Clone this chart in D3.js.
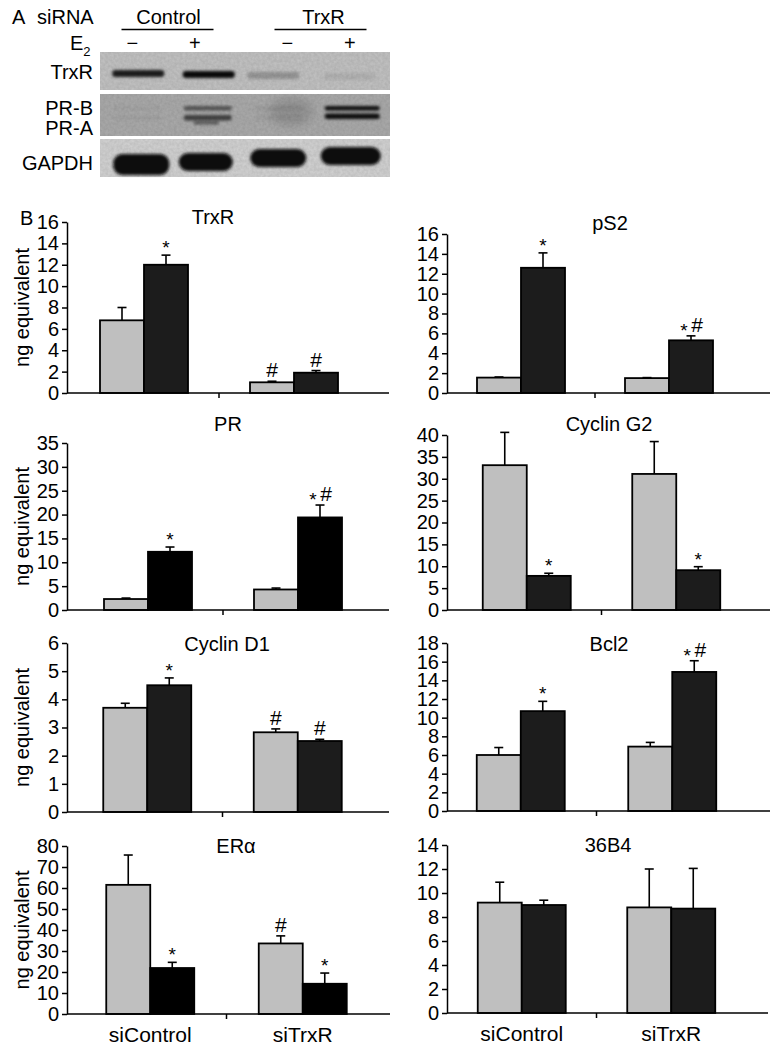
<!DOCTYPE html>
<html><head><meta charset="utf-8">
<script src="https://cdn.jsdelivr.net/npm/d3@7"></script>
<style>
body{margin:0;background:#fff}
svg{display:block}
text{font-family:"Liberation Sans",Arial,Helvetica,sans-serif;fill:#000}
</style>
</head><body>
<svg id="c" width="778" height="1050"></svg>
<script>
// ---------------- DATA ----------------
const groups = ["siControl", "siTrxR"];
const treatments = ["vehicle", "E2"];
const panelNames = ["TrxR", "pS2", "PR", "Cyclin G2", "Cyclin D1", "Bcl2", "ERα", "36B4"];
// order of values: siControl-vehicle, siControl-E2, siTrxR-vehicle, siTrxR-E2
const TrxR_mean = [6.8, 12.0, 1.0, 1.9];
const TrxR_err  = [1.2, 0.9, 0.1, 0.2];
const TrxR_marks = ["", "*", "#", "#"];
const TrxR_ticks = [0, 2, 4, 6, 8, 10, 12, 14, 16];

const pS2_mean = [1.55, 12.6, 1.5, 5.3];
const pS2_err  = [0.06, 1.5, 0.05, 0.45];
const pS2_marks = ["", "*", "", "*#"];
const pS2_ticks = [0, 2, 4, 6, 8, 10, 12, 14, 16];

const PR_mean = [2.3, 12.2, 4.3, 19.4];
const PR_err  = [0.2, 1.0, 0.3, 2.6];
const PR_marks = ["", "*", "", "*#"];
const PR_ticks = [0, 5, 10, 15, 20, 25, 30, 35];

const CycG2_mean = [33.1, 7.8, 31.1, 9.1];
const CycG2_err  = [7.5, 0.6, 7.4, 0.8];
const CycG2_marks = ["", "*", "", "*"];
const CycG2_ticks = [0, 5, 10, 15, 20, 25, 30, 35, 40];

const CycD1_mean = [3.7, 4.5, 2.83, 2.52];
const CycD1_err  = [0.16, 0.26, 0.12, 0.06];
const CycD1_marks = ["", "*", "#", "#"];
const CycD1_ticks = [0, 1, 2, 3, 4, 5, 6];

const Bcl2_mean = [6.0, 10.7, 6.9, 14.9];
const Bcl2_err  = [0.8, 1.05, 0.45, 1.2];
const Bcl2_marks = ["", "*", "", "*#"];
const Bcl2_ticks = [0, 2, 4, 6, 8, 10, 12, 14, 16, 18];

const ERa_mean = [61.5, 21.9, 33.6, 14.4];
const ERa_err  = [14.2, 2.7, 3.6, 5.1];
const ERa_marks = ["", "*", "#", "*"];
const ERa_ticks = [0, 10, 20, 30, 40, 50, 60, 70, 80];

const B36B4_mean = [9.2, 9.0, 8.8, 8.7];
const B36B4_err  = [1.7, 0.4, 3.2, 3.35];
const B36B4_marks = ["", "", "", ""];
const B36B4_ticks = [0, 2, 4, 6, 8, 10, 12, 14];

// western blot (panel A): relative band intensities per lane
const lanes = ["Control −", "Control +", "TrxR −", "TrxR +"];
const siRNAGroups = ["Control", "TrxR"];
const e2Signs = ["−", "+", "−", "+"];
const blotTrxR = [0.85, 0.95, 0.22, 0.07];
const blotPRB = [0.03, 0.5, 0.06, 0.92];
const blotPRA = [0.03, 0.62, 0.04, 0.92];
const blotGAPDH = [1, 1, 1, 1];

// ---------------- LAYOUT / STYLE ----------------
const panels = [
  {name: panelNames[0], mean: TrxR_mean, err: TrxR_err, marks: TrxR_marks, ticks: TrxR_ticks},
  {name: panelNames[1], mean: pS2_mean, err: pS2_err, marks: pS2_marks, ticks: pS2_ticks},
  {name: panelNames[2], mean: PR_mean, err: PR_err, marks: PR_marks, ticks: PR_ticks},
  {name: panelNames[3], mean: CycG2_mean, err: CycG2_err, marks: CycG2_marks, ticks: CycG2_ticks},
  {name: panelNames[4], mean: CycD1_mean, err: CycD1_err, marks: CycD1_marks, ticks: CycD1_ticks},
  {name: panelNames[5], mean: Bcl2_mean, err: Bcl2_err, marks: Bcl2_marks, ticks: Bcl2_ticks},
  {name: panelNames[6], mean: ERa_mean, err: ERa_err, marks: ERa_marks, ticks: ERa_ticks},
  {name: panelNames[7], mean: B36B4_mean, err: B36B4_err, marks: B36B4_marks, ticks: B36B4_ticks}
];
const layout = [
  {x0:67, b0:69, b1:369, x1:389, y0:393, yT:222, tx:213, ty:217, ylab:true},
  {x0:447, b0:447, b1:743, x1:770, y0:393, yT:234, tx:610, ty:223},
  {x0:67, b0:73, b1:373, x1:389, y0:610, yT:443, tx:228, ty:424, ylab:true, dark:"#000"},
  {x0:447, b0:452, b1:751, x1:770, y0:610, yT:435, tx:609, ty:424},
  {x0:67, b0:72, b1:373, x1:389, y0:812, yT:643, tx:227, ty:644, ylab:true},
  {x0:447, b0:445, b1:748, x1:770, y0:811, yT:643, tx:609, ty:644},
  {x0:67, b0:74, b1:379, x1:390, y0:1014, yT:846, tx:236, ty:846, ylab:true, xlab:true, dark:"#000"},
  {x0:447, b0:447, b1:746, x1:768, y0:1013, yT:845, tx:608, ty:845, xlab:true}
];
const GRAY = "#bfbfbf", DARK = "#1c1c1c";
const BARW = 44;

const svg = d3.select("#c");
svg.append("rect").attr("width", 778).attr("height", 1050).attr("fill", "#fff");

// ---------------- PANEL B ----------------
svg.append("text").attr("x", 20).attr("y", 225).attr("font-size", 20).text("B");

panels.forEach((p, i) => {
  const L = layout[i];
  const g = svg.append("g");
  const y = d3.scaleLinear().domain([0, d3.max(p.ticks)]).range([L.y0, L.yT]);
  const x = d3.scaleBand().domain(groups).range([L.b0, L.b1]);
  const xi = d3.scaleBand().domain(treatments).range([-BARW, BARW]);

  const rows = [];
  groups.forEach((gr, gi) => treatments.forEach((t, ti) => {
    const k = gi * 2 + ti;
    rows.push({g: gr, t: t, ti: ti, v: p.mean[k], e: p.err[k], m: p.marks[k]});
  }));

  // bars
  g.selectAll("rect.bar").data(rows).join("rect")
    .attr("x", d => x(d.g) + x.bandwidth() / 2 + xi(d.t))
    .attr("width", xi.bandwidth())
    .attr("y", d => y(d.v))
    .attr("height", d => y(0) - y(d.v))
    .attr("fill", d => d.ti === 0 ? GRAY : (L.dark || DARK))
    .attr("stroke", "#000").attr("stroke-width", 1.8);

  // error bars
  const cx = d => x(d.g) + x.bandwidth() / 2 + xi(d.t) + xi.bandwidth() / 2;
  g.selectAll("line.eb").data(rows).join("line")
    .attr("x1", cx).attr("x2", cx)
    .attr("y1", d => y(d.v)).attr("y2", d => y(d.v + d.e))
    .attr("stroke", "#000").attr("stroke-width", 1.6);
  g.selectAll("line.cap").data(rows).join("line")
    .attr("x1", d => cx(d) - 4.5).attr("x2", d => cx(d) + 4.5)
    .attr("y1", d => y(d.v + d.e)).attr("y2", d => y(d.v + d.e))
    .attr("stroke", "#000").attr("stroke-width", 1.6);

  // significance marks
  rows.forEach(d => {
    if (!d.m) return;
    const top = y(d.v + d.e);
    const both = d.m.length > 1;
    [...d.m].forEach(ch => {
      const dx = both ? (ch === "*" ? -7 : 6) : 0;
      g.append("text")
        .attr("x", cx(d) + dx)
        .attr("y", ch === "*" ? top + (both ? 1 : -1) : top - 4)
        .attr("text-anchor", "middle")
        .attr("font-size", ch === "*" ? 19 : 21)
        .text(ch);
    });
  });

  // y axis
  const ax = g.append("g").attr("transform", `translate(${L.x0},0)`)
    .call(d3.axisLeft(y).tickValues(p.ticks).tickFormat(d3.format("d"))
      .tickSize(5).tickSizeOuter(0).tickPadding(3));
  ax.attr("font-family", null).attr("font-size", null);
  ax.selectAll("text").attr("font-size", 20).attr("fill", "#000");
  ax.selectAll("path, line").attr("stroke", "#000").attr("stroke-width", 1.5);

  // x axis line and middle tick
  g.append("line").attr("x1", L.x0).attr("x2", L.x1).attr("y1", L.y0).attr("y2", L.y0)
    .attr("stroke", "#000").attr("stroke-width", 1.5);
  const mid = (x(groups[0]) + x(groups[1]) + x.bandwidth()) / 2;
  g.append("line").attr("x1", mid).attr("x2", mid).attr("y1", L.y0).attr("y2", L.y0 + 5)
    .attr("stroke", "#000").attr("stroke-width", 1.5);

  // title
  g.append("text").attr("x", L.tx).attr("y", L.ty).attr("dy", "0.35em")
    .attr("text-anchor", "middle").attr("font-size", 20).text(p.name);

  if (L.ylab) {
    g.append("text").attr("transform", `translate(22,${(L.y0 + L.yT) / 2}) rotate(-90)`)
      .attr("dy", "0.35em").attr("text-anchor", "middle").attr("font-size", 20).text("ng equivalent");
  }
  if (L.xlab) {
    g.selectAll("text.xl").data(groups).join("text")
      .attr("x", d => x(d) + x.bandwidth() / 2).attr("y", L.y0 + 28)
      .attr("text-anchor", "middle").attr("font-size", 21).text(d => d);
  }
});

// ---------------- PANEL A (western blot) ----------------
const defs = svg.append("defs");
defs.append("filter").attr("id", "blur2").attr("x", "-30%").attr("y", "-100%").attr("width", "160%").attr("height", "300%")
  .append("feGaussianBlur").attr("stdDeviation", 1.6);
defs.append("filter").attr("id", "blur4").attr("x", "-30%").attr("y", "-100%").attr("width", "160%").attr("height", "300%")
  .append("feGaussianBlur").attr("stdDeviation", 4);
const noise = defs.append("filter").attr("id", "noise").attr("x", 0).attr("y", 0).attr("width", "100%").attr("height", "100%");
noise.append("feTurbulence").attr("type", "fractalNoise").attr("baseFrequency", 0.35).attr("numOctaves", 2).attr("seed", 3).attr("result", "t");
noise.append("feColorMatrix").attr("in", "t").attr("type", "matrix")
  .attr("values", "0 0 0 0 0  0 0 0 0 0  0 0 0 0 0  0 0 0 0.12 0").attr("result", "n");
noise.append("feComposite").attr("in", "n").attr("in2", "SourceGraphic").attr("operator", "in");

const lx = d3.scaleBand().domain(lanes).range([103, 385]);
const lc = l => lx(l) + lx.bandwidth() / 2;
const A = svg.append("g");

A.append("text").attr("x", 12).attr("y", 24).attr("font-size", 20).text("A");
A.append("text").attr("x", 37).attr("y", 24).attr("font-size", 20).text("siRNA");
siRNAGroups.forEach((s, i) => {
  const c = (lc(lanes[i * 2]) + lc(lanes[i * 2 + 1])) / 2;
  A.append("text").attr("x", c - (i === 0 ? 5 : -9)).attr("y", 24).attr("text-anchor", "middle").attr("font-size", 20).text(s);
  A.append("line").attr("x1", c - 50 + (i === 0 ? -2 : 10)).attr("x2", c + 42 + (i === 0 ? -2 : 10))
    .attr("y1", 29.5).attr("y2", 29.5).attr("stroke", "#000").attr("stroke-width", 1.5);
});
const e2 = A.append("text").attr("x", 70).attr("y", 50).attr("font-size", 20);
e2.append("tspan").text("E");
e2.append("tspan").attr("font-size", 13).attr("dy", 6).text("2");
const signOff = [-6, -14, 8, 0];
lanes.forEach((l, i) => {
  A.append("text").attr("x", lc(l) + signOff[i]).attr("y", 50).attr("text-anchor", "middle")
    .attr("font-size", 20).text(e2Signs[i]);
});

// blot strips
const strips = [
  {y: 52, h: 38, bg: "#c4c4c4"},
  {y: 94, h: 42, bg: "#acacac"},
  {y: 139, h: 38, bg: "#d4d4d4"}
];
strips.forEach(s => {
  A.append("rect").attr("x", 100).attr("y", s.y).attr("width", 290).attr("height", s.h).attr("fill", s.bg);
  A.append("rect").attr("x", 100).attr("y", s.y).attr("width", 290).attr("height", s.h).attr("fill", s.bg).attr("filter", "url(#noise)");
});

// TrxR bands
A.selectAll("rect.trxr").data(lanes).join("rect")
  .attr("x", (l, i) => lc(l) - 26 + (i === 2 ? -6 : 0)).attr("y", (l, i) => 70 + i)
  .attr("width", 52).attr("height", 7).attr("rx", 3)
  .attr("fill", "#000").attr("opacity", (l, i) => blotTrxR[i])
  .attr("filter", "url(#blur2)");
// PR-B / PR-A bands
A.selectAll("rect.prb").data(lanes).join("rect")
  .attr("x", l => lc(l) - 25).attr("y", 106).attr("width", (l, i) => i === 3 ? 55 : 48).attr("height", 4.5).attr("rx", 2)
  .attr("fill", "#000").attr("opacity", (l, i) => blotPRB[i]).attr("filter", "url(#blur2)");
A.selectAll("rect.pra").data(lanes).join("rect")
  .attr("x", l => lc(l) - 25).attr("y", (l, i) => i === 3 ? 113.5 : 115).attr("width", (l, i) => i === 3 ? 55 : 48).attr("height", 5.5).attr("rx", 2.5)
  .attr("fill", "#000").attr("opacity", (l, i) => blotPRA[i]).attr("filter", "url(#blur2)");
A.append("rect").attr("x", lc(lanes[1]) - 15).attr("y", 121).attr("width", 25).attr("height", 3.5)
  .attr("fill", "#000").attr("opacity", 0.45).attr("filter", "url(#blur2)");
A.append("ellipse").attr("cx", lc(lanes[2]) + 12).attr("cy", 112).attr("rx", 22).attr("ry", 14)
  .attr("fill", "#000").attr("opacity", 0.12).attr("filter", "url(#blur4)");
// GAPDH bands
const gapY = [164, 163, 159, 157];
A.selectAll("rect.gap").data(lanes).join("rect")
  .attr("x", (l, i) => lc(l) - 28 + [3, -2, -1, -1][i]).attr("y", (l, i) => gapY[i] - 10)
  .attr("width", (l, i) => [56, 54, 56, 60][i]).attr("height", (l, i) => i === 0 ? 21 : 18).attr("rx", 9)
  .attr("fill", "#0a0a0a").attr("opacity", (l, i) => blotGAPDH[i]).attr("filter", "url(#blur2)");

// blot labels
[["TrxR", 79], ["PR-B", 115], ["PR-A", 135], ["GAPDH", 170]].forEach(([t, yy]) => {
  A.append("text").attr("x", 93).attr("y", yy).attr("text-anchor", "end").attr("font-size", 20).text(t);
});
</script>
</body></html>
